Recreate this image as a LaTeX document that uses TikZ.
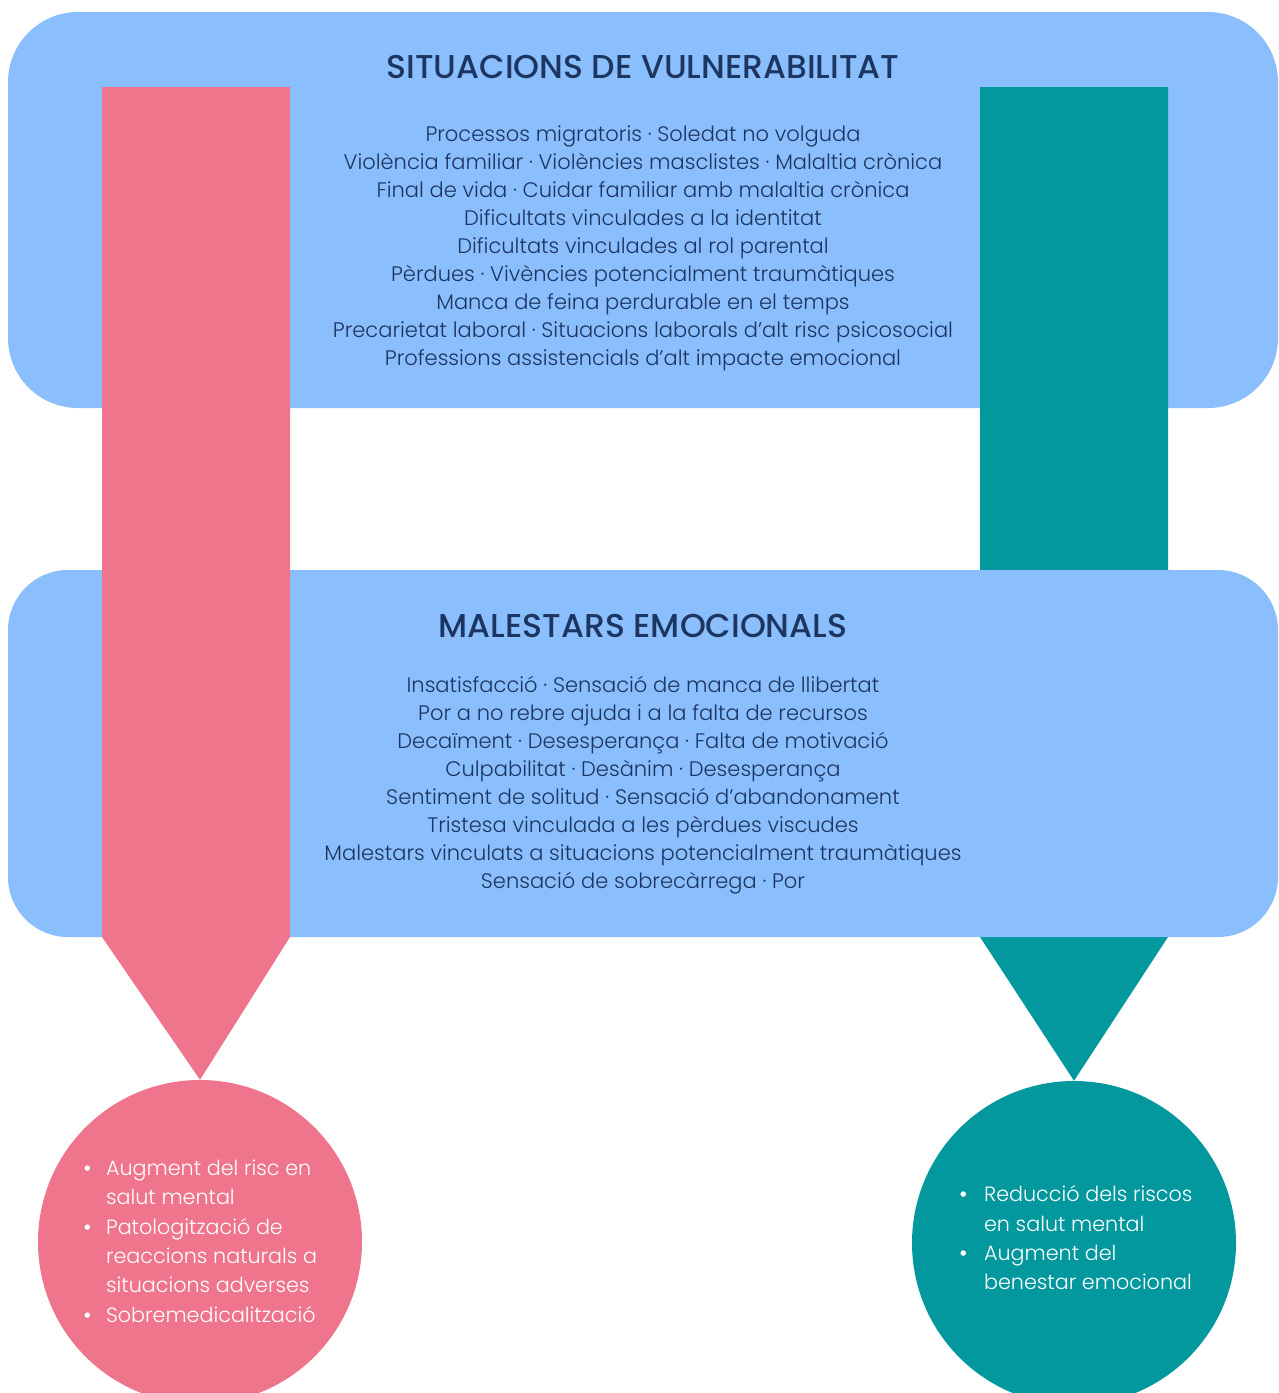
\documentclass[tikz,border=0pt]{standalone}
\usepackage{fontspec}
\setmainfont{Poppins}[UprightFont=* Light, BoldFont=* Medium]
\usetikzlibrary{positioning}

\definecolor{skyfill}{HTML}{8ABEFC}
\definecolor{rosefill}{HTML}{EE758B}
\definecolor{tealfill}{HTML}{03989E}
\definecolor{navytext}{HTML}{1C3561}

\newcommand{\dotmark}{{\bfseries\textbullet}}

\tikzset{
  panel/.style={fill=skyfill, rounded corners=70pt, minimum width=1270pt, inner sep=0pt},
  outcome/.style={circle, minimum size=324pt, inner sep=0pt},
  heading/.style={text=navytext, font=\fontsize{33}{38}\selectfont\bfseries},
  itemlist/.style={text=navytext, align=center, font=\fontsize{21}{28}\selectfont},
  bulletlist/.style={text=white, font=\fontsize{20.7}{29.3}\selectfont}
}

\begin{document}
\begin{tikzpicture}[x=1pt, y=-1pt]

\useasboundingbox (0,0) rectangle (1278,1393);
\clip (0,0) rectangle (1278,1393);

% Panels and outcomes
\node[panel, minimum height=396pt] (vulnpanel) at (643,210) {};
\node[outcome, fill=rosefill] (riskcircle) at (200,1242) {};
\node[outcome, fill=tealfill] (wellcircle) at (1074,1243) {};

% Protective arrow (behind the lower panel)
\fill[tealfill] (980,87) -- (1168,87) -- (1168,937) -- (wellcircle.north) -- (980,937) -- cycle;

\node[panel, minimum height=367pt, rounded corners=60pt] (malestpanel) at (643,753.5) {};

% Risk arrow (over both panels)
\fill[rosefill] (102,87) -- (290,87) -- (290,937) -- (riskcircle.north) -- (102,937) -- cycle;

% Headings
\node[heading] (vulntitle) at (643,67) {SITUACIONS DE VULNERABILITAT};
\node[heading] (malesttitle) at (643,626) {MALESTARS EMOCIONALS};

% Lists
\node[itemlist] (vulnlist) at (643,248) {%
  Processos migratoris · Soledat no volguda\\
  Violència familiar · Violències masclistes · Malaltia crònica\\
  Final de vida · Cuidar familiar amb malaltia crònica\\
  Dificultats vinculades a la identitat\\
  Dificultats vinculades al rol parental\\
  Pèrdues · Vivències potencialment traumàtiques\\
  Manca de feina perdurable en el temps\\
  Precarietat laboral · Situacions laborals d’alt risc psicosocial\\
  Professions assistencials d’alt impacte emocional};

\node[itemlist] (malestlist) at (643,785) {%
  Insatisfacció · Sensació de manca de llibertat\\
  Por a no rebre ajuda i a la falta de recursos\\
  Decaïment · Desesperança · Falta de motivació\\
  Culpabilitat · Desànim · Desesperança\\
  Sentiment de solitud · Sensació d'abandonament\\
  Tristesa vinculada a les pèrdues viscudes\\
  Malestars vinculats a situacions potencialment traumàtiques\\
  Sensació de sobrecàrrega · Por};

% Outcome bullets
\node[bulletlist, anchor=west] (risklist) at (79,1243) {%
  \begin{tabular}{@{}l@{\hspace{14pt}}l@{}}
    \dotmark & Augment del risc en\\
             & salut mental\\
    \dotmark & Patologització de\\
             & reaccions naturals a\\
             & situacions adverses\\
    \dotmark & Sobremedicalització
  \end{tabular}};

\node[bulletlist, anchor=west] (welllist) at (955,1240) {%
  \begin{tabular}{@{}l@{\hspace{16pt}}l@{}}
    \dotmark & Reducció dels riscos\\
             & en salut mental\\
    \dotmark & Augment del\\
             & benestar emocional
  \end{tabular}};

\end{tikzpicture}
\end{document}
